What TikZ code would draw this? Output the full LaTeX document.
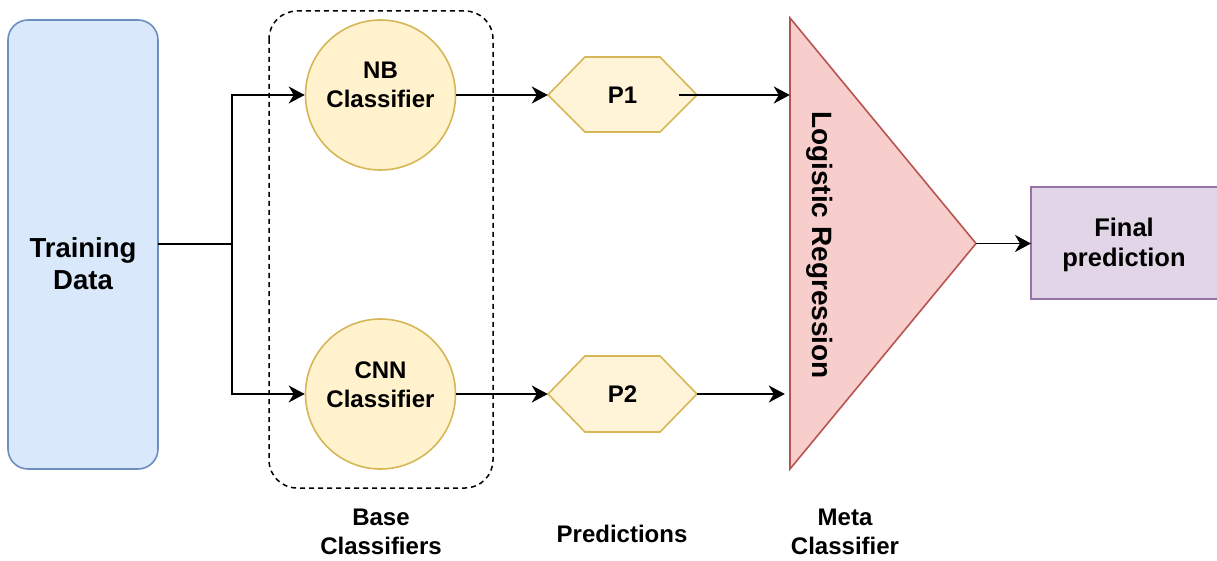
\documentclass[tikz,border=0pt]{standalone}
\usepackage{fontspec}
\setmainfont{Liberation Sans}
\usetikzlibrary{arrows.meta,shapes.geometric,calc}

\definecolor{bluefill}{HTML}{DAE8FC}
\definecolor{bluedraw}{HTML}{6C8EBF}
\definecolor{yelfill}{HTML}{FFF2CC}
\definecolor{hexfill}{HTML}{FFF4D8}
\definecolor{yeldraw}{HTML}{D6B656}
\definecolor{redfill}{HTML}{F8CECC}
\definecolor{reddraw}{HTML}{B85450}
\definecolor{purfill}{HTML}{E1D5E7}
\definecolor{purdraw}{HTML}{9673A6}

\tikzset{
  lbl/.style={font=\bfseries\fontsize{24}{29}\selectfont, align=center, inner sep=0pt},
  bigl/.style={font=\bfseries\fontsize{27.5}{32}\selectfont, align=center, inner sep=0pt},
  conn/.style={line width=1.8pt, -{Stealth[length=16pt,width=17pt,inset=5pt]}},
  wire/.style={line width=1.8pt},
  border/.style={line width=1.6pt},
}

\begin{document}
\begin{tikzpicture}[x=1pt,y=-1pt]
\useasboundingbox (0,0) rectangle (1217,561);

% training data block
\draw[border, draw=bluedraw, fill=bluefill, rounded corners=20pt] (8,20) rectangle (158,469);
\node[bigl] (td) at (83,264) {Training\\Data};
\coordinate (tdE) at (158,244);

% group of base classifiers
\draw[line width=1.5pt, dash pattern=on 5pt off 4pt, rounded corners=28pt] (269,11) rectangle (493,488);

% base classifiers
\node[circle, border, draw=yeldraw, fill=yelfill, minimum size=150pt, inner sep=0pt] (nb) at (380.5,95) {};
\node[lbl] at (380.5,85) {NB\\Classifier};
\node[circle, border, draw=yeldraw, fill=yelfill, minimum size=150pt, inner sep=0pt] (cnn) at (380.5,394) {};
\node[lbl] at (380.5,385) {CNN\\Classifier};

% predictions (hexagons)
\draw[border, draw=yeldraw, fill=hexfill] (548,95) -- (585,57) -- (660,57) -- (697,95) -- (660,132) -- (585,132) -- cycle;
\node[lbl, minimum width=149pt, minimum height=75pt] (p1) at (622.5,95) {P1};
\draw[border, draw=yeldraw, fill=hexfill] (548,394) -- (585,356) -- (660,356) -- (697,394) -- (660,432) -- (585,432) -- cycle;
\node[lbl, minimum width=149pt, minimum height=76pt] (p2) at (622.5,394) {P2};

% meta classifier
\draw[border, draw=reddraw, fill=redfill] (790,18) -- (976,243.5) -- (790,469) -- cycle;
\node[minimum width=186pt, minimum height=451pt, inner sep=0pt] (meta) at (883,243.5) {};
\node[bigl, font=\bfseries\fontsize{28}{32}\selectfont, rotate=-90] (lr) at (820,245) {Logistic Regression};

% final output
\draw[border, draw=purdraw, fill=purfill] (1031,187) rectangle (1219,299);
\node[lbl, font=\bfseries\fontsize{25.5}{30}\selectfont] (fin) at (1124,245) {Final\\prediction};
\coordinate (finW) at (1031,243.5);

% connectors
\coordinate (split) at (232,244);
\draw[wire] (tdE) -- (split);
\draw[conn] (split) |- (nb.west);
\draw[conn] (split) |- (cnn.west);
\draw[conn] (nb.east) -- (p1.west);
\draw[conn] (cnn.east) -- (p2.west);
\draw[conn] ($(p1.east)+(-18,0)$) -- (meta.west |- p1);
\draw[conn] (p2.east) -- ($(meta.west |- p2)+(-5,0)$);
\draw[conn] (meta.east) -- (finW);

% column captions
\node[lbl] (cap1) at (381,532) {Base\\Classifiers};
\node[lbl] (cap2) at (622,534) {Predictions};
\node[lbl] (cap3) at (845,532) {Meta\\Classifier};
\end{tikzpicture}
\end{document}
